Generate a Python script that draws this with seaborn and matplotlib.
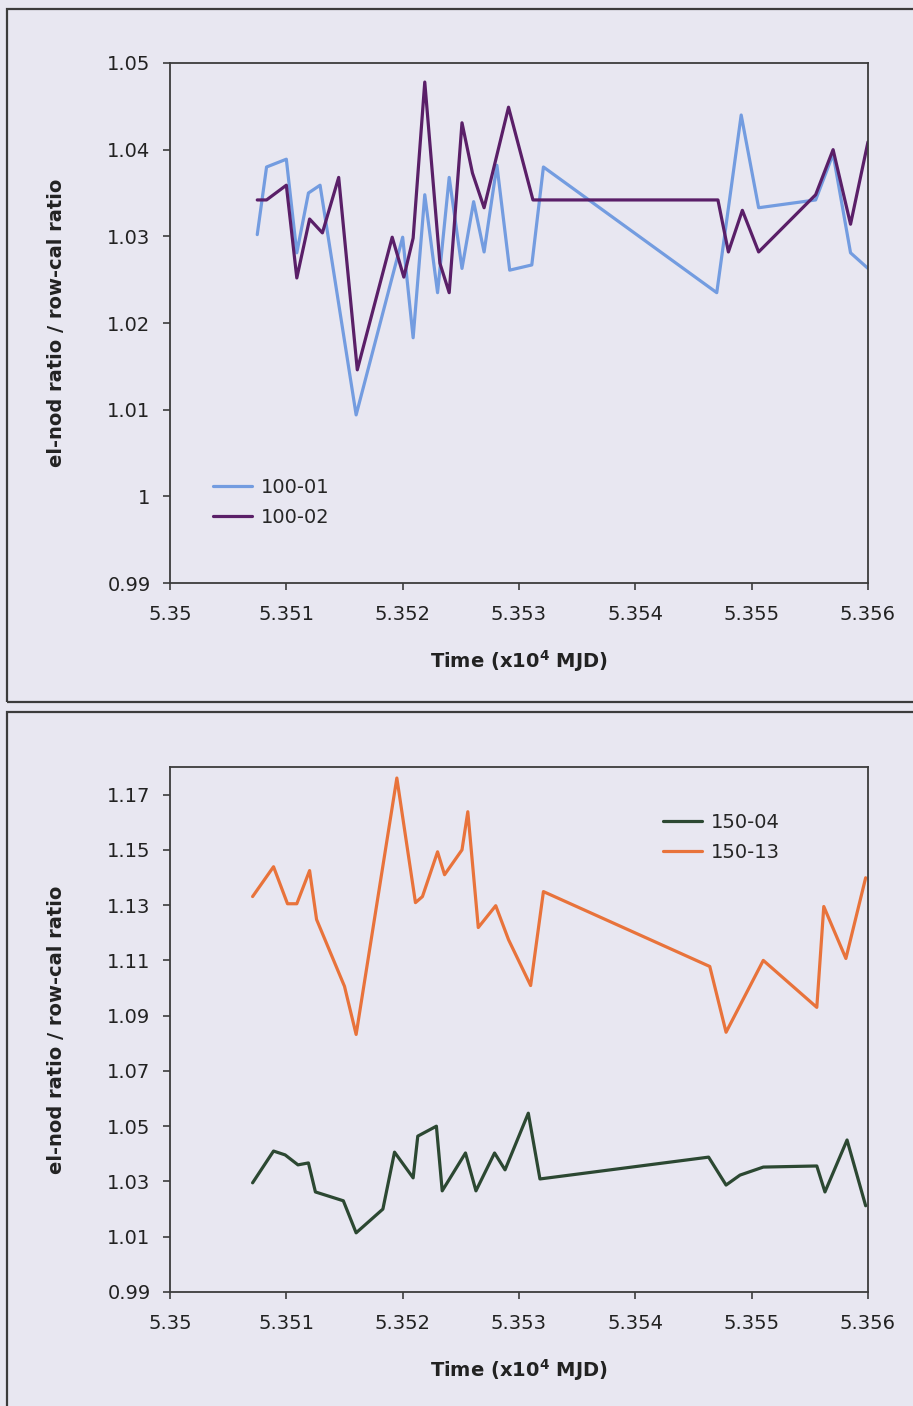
import matplotlib
matplotlib.use("Agg")
import matplotlib.pyplot as plt
from matplotlib.patches import Rectangle
from matplotlib.ticker import FuncFormatter, MultipleLocator
import pandas as pd
import seaborn as sns

# ---- data: time in units of 10^4 MJD, ratio el-nod / row-cal ----
t_100_01 = [5.35075, 5.35083, 5.35100, 5.35109, 5.35119, 5.35129, 5.35160, 5.35200,
            5.35209, 5.35219, 5.35230, 5.35240, 5.35251, 5.35261, 5.35270, 5.35281,
            5.35292, 5.35311, 5.35321, 5.35470, 5.35491, 5.35506, 5.35555, 5.35570,
            5.35585, 5.35600]
r_100_01 = [1.0302, 1.0380, 1.0389, 1.0281, 1.0350, 1.0359, 1.0094, 1.0299,
            1.0183, 1.0348, 1.0235, 1.0368, 1.0263, 1.0340, 1.0282, 1.0382,
            1.0261, 1.0267, 1.0380, 1.0235, 1.0440, 1.0333, 1.0342, 1.0395,
            1.0281, 1.0263]

t_100_02 = [5.35075, 5.35083, 5.35100, 5.35109, 5.35120, 5.35131, 5.35145, 5.35161,
            5.35191, 5.35201, 5.35209, 5.35219, 5.35232, 5.35240, 5.35251, 5.35260,
            5.35270, 5.35291, 5.35312, 5.35471, 5.35480, 5.35492, 5.35506, 5.35555,
            5.35570, 5.35585, 5.35600]
r_100_02 = [1.0342, 1.0342, 1.0359, 1.0252, 1.0320, 1.0304, 1.0368, 1.0146,
            1.0299, 1.0253, 1.0298, 1.0478, 1.0269, 1.0235, 1.0431, 1.0373,
            1.0333, 1.0449, 1.0342, 1.0342, 1.0282, 1.0330, 1.0282, 1.0348,
            1.0400, 1.0314, 1.0409]

t_150_04 = [5.35071, 5.35089, 5.35099, 5.35110, 5.35119, 5.35125, 5.35149, 5.35160,
            5.35183, 5.35193, 5.35209, 5.35213, 5.35229, 5.35234, 5.35254, 5.35263,
            5.35279, 5.35288, 5.35308, 5.35318, 5.35463, 5.35478, 5.35490, 5.35510,
            5.35556, 5.35563, 5.35582, 5.35598]
r_150_04 = [1.0295, 1.0410, 1.0396, 1.0360, 1.0367, 1.0262, 1.0230, 1.0114,
            1.0200, 1.0406, 1.0313, 1.0464, 1.0500, 1.0266, 1.0403, 1.0266,
            1.0403, 1.0342, 1.0547, 1.0309, 1.0388, 1.0287, 1.0323, 1.0352,
            1.0356, 1.0262, 1.0450, 1.0212]

t_150_13 = [5.35071, 5.35089, 5.35101, 5.35109, 5.35120, 5.35126, 5.35150, 5.35160,
            5.35195, 5.35211, 5.35217, 5.35230, 5.35236, 5.35251, 5.35256, 5.35265,
            5.35280, 5.35291, 5.35310, 5.35321, 5.35464, 5.35478, 5.35510, 5.35556,
            5.35562, 5.35581, 5.35598]
r_150_13 = [1.1331, 1.1439, 1.1305, 1.1305, 1.1425, 1.1248, 1.1006, 1.0832,
            1.1760, 1.1309, 1.1331, 1.1493, 1.1410, 1.1500, 1.1638, 1.1219,
            1.1298, 1.1175, 1.1009, 1.1349, 1.1078, 1.0840, 1.1100, 1.0930,
            1.1295, 1.1107, 1.1399]

x_ticks = [5.35, 5.351, 5.352, 5.353, 5.354, 5.355, 5.356]
x_label = "Time (x10$^{\\mathbf{4}}$ MJD)"
y_label = "el-nod ratio / row-cal ratio"


def long_frame(pairs):
    rows = []
    for name, ts, rs in pairs:
        rows += [{"series": name, "t": t, "ratio": r} for t, r in zip(ts, rs)]
    return pd.DataFrame(rows)


df_top = long_frame([("100-01", t_100_01, r_100_01), ("100-02", t_100_02, r_100_02)])
df_bot = long_frame([("150-04", t_150_04, r_150_04), ("150-13", t_150_13, r_150_13)])

sns.set_theme(style="white")
plt.rcParams["font.family"] = ["DejaVu Sans"]

page = "#e8e7f1"
ink = "#3c3c3c"
fig = plt.figure(figsize=(9.13, 14.06), dpi=100, facecolor=page)

# boxes around each chart
for (x0, y0, w, h) in [(0.0077, 0.5007, 1.05, 0.4929), (0.0077, -0.05, 1.05, 0.5436)]:
    fig.patches.append(Rectangle((x0, y0), w, h, transform=fig.transFigure,
                                 fill=False, edgecolor=ink, linewidth=1.6,
                                 zorder=0))

ax_top = fig.add_axes([0.1862, 0.5853, 0.7645, 0.3699])
ax_bot = fig.add_axes([0.1862, 0.0811, 0.7645, 0.3734])


def style_axes(ax, ylim, ystep):
    ax.set_facecolor("none")
    ax.set_xlim(5.35, 5.356)
    ax.set_ylim(*ylim)
    ax.set_xticks(x_ticks)
    ax.yaxis.set_major_locator(MultipleLocator(ystep, offset=0.99))
    fmt = FuncFormatter(lambda v, _: f"{round(v, 6):g}")
    ax.xaxis.set_major_formatter(fmt)
    ax.yaxis.set_major_formatter(fmt)
    for s in ax.spines.values():
        s.set_visible(True)
        s.set_color(ink)
        s.set_linewidth(1.3)
    ax.tick_params(axis="both", direction="out", length=5, width=1.2,
                   color=ink, labelsize=14, labelcolor="#222222",
                   bottom=True, left=True)
    ax.tick_params(axis="x", pad=11)
    ax.tick_params(axis="y", pad=9)
    ax.set_xlabel(x_label, fontsize=14, fontweight="bold", color="#222222")
    ax.set_ylabel(y_label, fontsize=14, fontweight="bold", color="#222222")
    ax.xaxis.set_label_coords(0.5, -0.125)
    ax.yaxis.set_label_coords(-0.149, 0.5)
    ax.grid(False)


sns.lineplot(data=df_top, x="t", y="ratio", hue="series", estimator=None,
             palette={"100-01": "#739ce0", "100-02": "#5a1f68"},
             linewidth=2.3, ax=ax_top)
sns.lineplot(data=df_bot, x="t", y="ratio", hue="series", estimator=None,
             palette={"150-04": "#2c4832", "150-13": "#e8733b"},
             linewidth=2.3, ax=ax_bot)

style_axes(ax_top, (0.99, 1.05), 0.01)
style_axes(ax_bot, (0.99, 1.18), 0.02)

for ax, anchor in [(ax_top, (0.062, 0.155)), (ax_bot, (0.706, 0.866))]:
    ax.legend(title=None, loc="center left", bbox_to_anchor=anchor,
              frameon=False, fontsize=14, handlelength=2.0,
              handletextpad=0.45, labelspacing=0.55, borderpad=0,
              borderaxespad=0)

fig.savefig("out.png", dpi=100, facecolor=page)
